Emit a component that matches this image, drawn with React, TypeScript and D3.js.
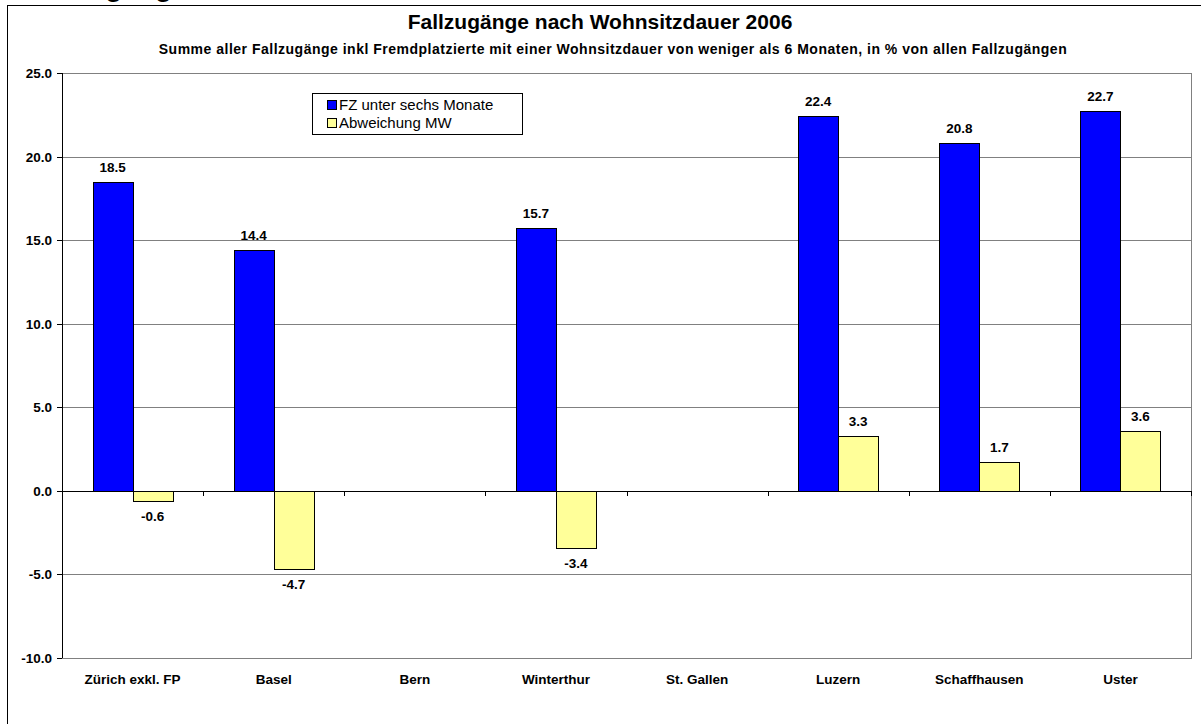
import { useEffect, useRef } from 'react';
import * as d3 from 'd3';

const categories = ['Zürich exkl. FP', 'Basel', 'Bern', 'Winterthur', 'St. Gallen', 'Luzern', 'Schaffhausen', 'Uster'];
const seriesNames = ['FZ unter sechs Monate', 'Abweichung MW'];
const fzValues: (number | null)[] = [18.5, 14.4, null, 15.7, null, 22.4, 20.8, 22.7];
const abwValues: (number | null)[] = [-0.6, -4.7, null, -3.4, null, 3.3, 1.7, 3.6];
const yTicks = [-10, -5, 0, 5, 10, 15, 20, 25];
const colors = ['#0000FF', '#FFFF99'];

const W = 1201;
const H = 724;

export default function App() {
  const svgRef = useRef<SVGSVGElement>(null);

  useEffect(() => {
    if (!svgRef.current) return;
    const svg = d3.select(svgRef.current);
    svg.selectAll('*').remove();

    const font = 'Liberation Sans, Arial, sans-serif';
    const margin = { top: 73, right: 10, bottom: 66, left: 62 };
    const plotW = W - margin.left - margin.right;
    const plotH = H - margin.top - margin.bottom;
    const labelSize = 13.5;

    // page heading, mostly cut off above the frame
    svg.append('text')
      .attr('x', 26)
      .attr('y', -4)
      .attr('font-family', font)
      .attr('font-weight', 'bold')
      .attr('font-size', 28)
      .text('Fallzugänge');

    // outer frame
    svg.append('rect')
      .attr('x', 7.5)
      .attr('y', 5.5)
      .attr('width', W + 10)
      .attr('height', H + 10)
      .attr('fill', '#fff')
      .attr('stroke', '#000')
      .attr('stroke-width', 1);

    svg.append('text')
      .attr('x', 600)
      .attr('y', 29)
      .attr('text-anchor', 'middle')
      .attr('font-family', font)
      .attr('font-weight', 'bold')
      .attr('font-size', 21)
      .text('Fallzugänge nach Wohnsitzdauer 2006');

    svg.append('text')
      .attr('x', 613)
      .attr('y', 54)
      .attr('text-anchor', 'middle')
      .attr('font-family', font)
      .attr('font-weight', 'bold')
      .attr('font-size', 14)
      .attr('letter-spacing', 0.5)
      .text('Summe aller Fallzugänge inkl Fremdplatzierte mit einer Wohnsitzdauer von weniger als 6 Monaten, in % von allen Fallzugängen');

    const x = d3.scaleBand<string>()
      .domain(categories)
      .range([0, plotW]);

    const y = d3.scaleLinear()
      .domain([-10, 25])
      .range([plotH, 0]);

    const g = svg.append('g')
      .attr('transform', `translate(${margin.left}, ${margin.top})`);

    // gridlines
    g.selectAll('.grid')
      .data(yTicks)
      .enter()
      .append('line')
      .attr('x1', 0)
      .attr('x2', plotW)
      .attr('y1', d => Math.round(y(d)) + 0.5)
      .attr('y2', d => Math.round(y(d)) + 0.5)
      .attr('stroke', '#808080')
      .attr('stroke-width', 1);

    // plot border
    g.append('rect')
      .attr('x', 0.5)
      .attr('y', 0.5)
      .attr('width', plotW)
      .attr('height', plotH)
      .attr('fill', 'none')
      .attr('stroke', '#808080');

    // y axis
    g.append('line')
      .attr('x1', 0.5).attr('x2', 0.5)
      .attr('y1', 0).attr('y2', plotH)
      .attr('stroke', '#000');

    g.selectAll('.ytick')
      .data(yTicks)
      .enter()
      .append('line')
      .attr('x1', -5)
      .attr('x2', 0)
      .attr('y1', d => Math.round(y(d)) + 0.5)
      .attr('y2', d => Math.round(y(d)) + 0.5)
      .attr('stroke', '#000');

    g.selectAll('.ylabel')
      .data(yTicks)
      .enter()
      .append('text')
      .attr('x', -10)
      .attr('y', d => y(d) + 5)
      .attr('text-anchor', 'end')
      .attr('font-family', font)
      .attr('font-weight', 'bold')
      .attr('font-size', labelSize)
      .text(d => d.toFixed(1));

    const barW = 40;
    const series = [fzValues, abwValues];

    series.forEach((vals, si) => {
      const items = categories
        .map((c, i) => ({ c, v: vals[i] }))
        .filter(d => d.v !== null) as { c: string; v: number }[];

      const cx = (c: string) => (x(c) as number) + x.bandwidth() / 2;

      g.selectAll(`.bar${si}`)
        .data(items)
        .enter()
        .append('rect')
        .attr('x', d => Math.round(cx(d.c) - barW + si * barW) + 0.5)
        .attr('y', d => Math.round(y(Math.max(0, d.v))) + 0.5)
        .attr('width', barW)
        .attr('height', d => Math.abs(Math.round(y(d.v)) - Math.round(y(0))))
        .attr('fill', colors[si])
        .attr('stroke', '#000')
        .attr('stroke-width', 1);

      g.selectAll(`.lab${si}`)
        .data(items)
        .enter()
        .append('text')
        .attr('x', d => cx(d.c) - barW / 2 + si * barW)
        .attr('y', d => d.v >= 0 ? y(d.v) - 10 : y(d.v) + 20)
        .attr('text-anchor', 'middle')
        .attr('font-family', font)
        .attr('font-weight', 'bold')
        .attr('font-size', labelSize)
        .text(d => d.v.toFixed(1));
    });

    // zero axis with category tick marks
    g.append('line')
      .attr('x1', 0).attr('x2', plotW)
      .attr('y1', Math.round(y(0)) + 0.5).attr('y2', Math.round(y(0)) + 0.5)
      .attr('stroke', '#000');

    const bounds = categories.map(c => x(c) as number).concat([plotW]);
    g.selectAll('.xtick')
      .data(bounds)
      .enter()
      .append('line')
      .attr('x1', d => Math.round(d) + 0.5)
      .attr('x2', d => Math.round(d) + 0.5)
      .attr('y1', Math.round(y(0)))
      .attr('y2', Math.round(y(0)) + 5)
      .attr('stroke', '#000');

    g.selectAll('.xlabel')
      .data(categories)
      .enter()
      .append('text')
      .attr('x', d => (x(d) as number) + x.bandwidth() / 2)
      .attr('y', plotH + 26)
      .attr('text-anchor', 'middle')
      .attr('font-family', font)
      .attr('font-weight', 'bold')
      .attr('font-size', labelSize)
      .text(d => d);

    // legend
    const legend = svg.append('g').attr('transform', 'translate(312, 93)');
    legend.append('rect')
      .attr('x', 0.5).attr('y', 0.5)
      .attr('width', 210).attr('height', 41)
      .attr('fill', '#fff')
      .attr('stroke', '#000');
    seriesNames.forEach((name, i) => {
      legend.append('rect')
        .attr('x', 15.5).attr('y', 7.5 + i * 18)
        .attr('width', 9).attr('height', 9)
        .attr('fill', colors[i])
        .attr('stroke', '#000');
      legend.append('text')
        .attr('x', 27)
        .attr('y', 17 + i * 18)
        .attr('font-family', font)
        .attr('font-size', 15)
        .text(name);
    });
  }, []);

  return (
    <div style={{ position: 'absolute', left: 0, top: 0, width: W, height: H }}>
      <svg ref={svgRef} width={W} height={H} style={{ display: 'block', overflow: 'hidden' }} />
    </div>
  );
}
